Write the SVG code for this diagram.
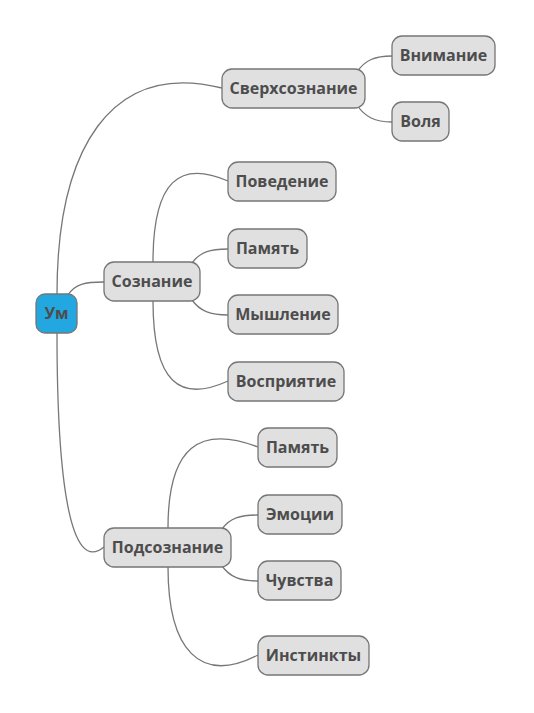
<svg xmlns="http://www.w3.org/2000/svg" width="534" height="713" viewBox="0 0 534 713">
<style>
.n rect{fill:#e0e0e0;stroke:#767676;stroke-width:1.3}
.root rect{fill:#22a7e0}
text{font-family:"Open Sans","Noto Sans","DejaVu Sans",sans-serif;font-weight:bold;font-size:16px;fill:#4d4d4d;text-anchor:middle;dominant-baseline:central}
.c path{fill:none;stroke:#777;stroke-width:1.3}
</style>
<rect width="534" height="713" fill="#fff"/>
<g class="c" id="connectors">
<path d="M57,294 C57,150 110,60 222,88"/>
<path d="M68,295 C75,284 85,282 104,282"/>
<path d="M57,333 C57,480 70,575 104,547"/>
<path d="M357,72 C365,60 375,56 392,56"/>
<path d="M357,105 C365,117 375,122 392,122"/>
<path d="M153,262 C153,180 180,160 228,181"/>
<path d="M192,263 C200,252 210,249 228,249"/>
<path d="M192,300 C200,311 210,315 228,315"/>
<path d="M153,301 C153,383 180,403 228,381"/>
<path d="M168,528 C168,446 200,425 258,447"/>
<path d="M222,529 C230,518 240,515 258,515"/>
<path d="M222,566 C230,577 240,581 258,581"/>
<path d="M168,567 C168,650 200,685 258,655"/>
</g>
<g class="n root" id="n-um"><rect x="36" y="294" width="41" height="39" rx="9"/><text x="56.5" y="313">Ум</text></g>
<g class="n" id="n-sverh"><rect x="222" y="69" width="143" height="39" rx="10"/><text x="293.5" y="88">Сверхсознание</text></g>
<g class="n" id="n-vnim"><rect x="392" y="36" width="103" height="39" rx="10"/><text x="443.5" y="55">Внимание</text></g>
<g class="n" id="n-volya"><rect x="392" y="102" width="57" height="39" rx="10"/><text x="420.5" y="121">Воля</text></g>
<g class="n" id="n-soz"><rect x="104" y="262" width="96" height="39" rx="10"/><text x="152" y="281">Сознание</text></g>
<g class="n" id="n-pov"><rect x="228" y="162" width="108" height="39" rx="10"/><text x="282" y="181">Поведение</text></g>
<g class="n" id="n-pam1"><rect x="228" y="229" width="79" height="39" rx="10"/><text x="267.5" y="248">Память</text></g>
<g class="n" id="n-mysh"><rect x="228" y="295" width="110" height="39" rx="10"/><text x="283" y="314">Мышление</text></g>
<g class="n" id="n-vospr"><rect x="228" y="362" width="116" height="39" rx="10"/><text x="286" y="381">Восприятие</text></g>
<g class="n" id="n-podsoz"><rect x="104" y="528" width="127" height="39" rx="10"/><text x="167.5" y="547">Подсознание</text></g>
<g class="n" id="n-pam2"><rect x="258" y="428" width="79" height="39" rx="10"/><text x="297.5" y="447">Память</text></g>
<g class="n" id="n-emo"><rect x="258" y="495" width="84" height="39" rx="10"/><text x="300" y="514">Эмоции</text></g>
<g class="n" id="n-chuv"><rect x="258" y="561" width="83" height="39" rx="10"/><text x="299.5" y="580">Чувства</text></g>
<g class="n" id="n-inst"><rect x="258" y="636" width="111" height="39" rx="10"/><text x="313.5" y="655">Инстинкты</text></g>
</svg>
